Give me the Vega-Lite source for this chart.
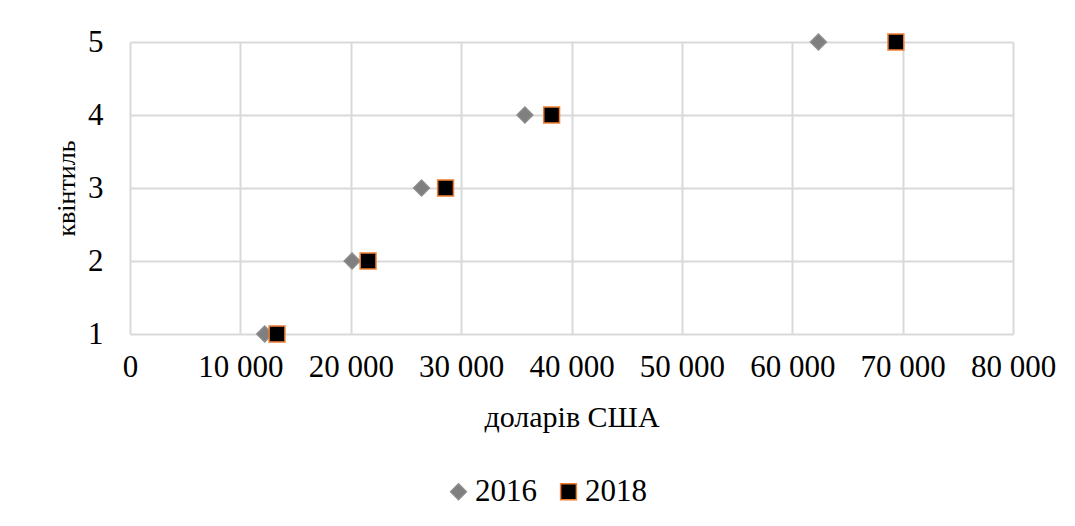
{
  "$schema": "https://vega.github.io/schema/vega-lite/v6.json",
  "autosize": {"type": "none"},
  "width": 883,
  "height": 292,
  "padding": {"left": 130, "top": 42, "right": 62, "bottom": 192},
  "background": "white",
  "data": {
    "values": [
      {"year": "2016", "quintile": 1, "usd": 12200},
      {"year": "2016", "quintile": 2, "usd": 20120},
      {"year": "2016", "quintile": 3, "usd": 26410},
      {"year": "2016", "quintile": 4, "usd": 35780},
      {"year": "2016", "quintile": 5, "usd": 62370},
      {"year": "2018", "quintile": 1, "usd": 13320},
      {"year": "2018", "quintile": 2, "usd": 21570},
      {"year": "2018", "quintile": 3, "usd": 28590},
      {"year": "2018", "quintile": 4, "usd": 38200},
      {"year": "2018", "quintile": 5, "usd": 69390}
    ]
  },
  "mark": {"type": "point", "filled": true, "strokeWidth": 1.5, "opacity": 1},
  "encoding": {
    "x": {
      "field": "usd", "type": "quantitative",
      "scale": {"domain": [0, 80000], "nice": false, "zero": true},
      "axis": {
        "title": "доларів США",
        "titleFontSize": 30,
        "values": [0, 10000, 20000, 30000, 40000, 50000, 60000, 70000, 80000],
        "labelExpr": "replace(format(datum.value, ','), ',', ' ')",
        "labelPadding": 18,
        "titlePadding": 20
      }
    },
    "y": {
      "field": "quintile", "type": "quantitative",
      "scale": {"domain": [1, 5], "nice": false, "zero": false},
      "axis": {
        "title": "квінтиль",
        "titleFontSize": 26,
        "values": [1, 2, 3, 4, 5],
        "format": "d",
        "labelPadding": 27,
        "titlePadding": 8
      }
    },
    "shape": {
      "field": "year", "type": "nominal",
      "scale": {"domain": ["2016", "2018"], "range": ["diamond", "square"]},
      "legend": {"title": null, "orient": "none", "legendX": 313, "legendY": 434}
    },
    "fill": {
      "field": "year", "type": "nominal",
      "scale": {"domain": ["2016", "2018"], "range": ["#7f7f7f", "#000000"]},
      "legend": {"title": null, "orient": "none", "legendX": 313, "legendY": 434}
    },
    "stroke": {
      "field": "year", "type": "nominal",
      "scale": {"domain": ["2016", "2018"], "range": ["#8c8c8c", "#ED7D31"]},
      "legend": {"title": null, "orient": "none", "legendX": 313, "legendY": 434}
    },
    "size": {"value": 250}
  },
  "config": {
    "font": "Liberation Serif",
    "view": {"stroke": null},
    "axis": {
      "domain": false,
      "ticks": false,
      "grid": true,
      "gridColor": "#d9d9d9",
      "gridWidth": 2,
      "gridOpacity": 1,
      "labelFont": "Liberation Serif",
      "labelFontSize": 31,
      "labelColor": "#000000",
      "labelFlush": false,
      "labelOverlap": false,
      "labelBound": false,
      "titleFont": "Liberation Serif",
      "titleFontWeight": "normal",
      "titleColor": "#000000"
    },
    "legend": {
      "direction": "horizontal",
      "labelFont": "Liberation Serif",
      "labelFontSize": 31,
      "labelColor": "#000000",
      "symbolSize": 250,
      "symbolStrokeWidth": 1.5,
      "labelOffset": 1,
      "columnPadding": 16,
      "padding": 0
    }
  }
}
